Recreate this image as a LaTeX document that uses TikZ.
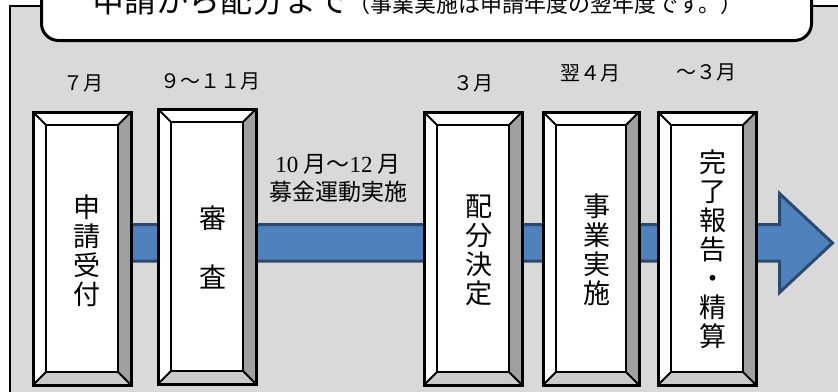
\documentclass[tikz,border=0pt]{standalone}
\usepackage{fontspec}
\newfontfamily\jp{Noto Sans CJK JP}
\newfontfamily\lserif{Liberation Serif}
\usetikzlibrary{calc}
\definecolor{bggray}{HTML}{D9D9D9}
\definecolor{bandblue}{HTML}{4F81BD}
\definecolor{banddark}{HTML}{2B4A6F}
\definecolor{bevdark}{HTML}{A0A0A0}
\definecolor{bevlight}{HTML}{CBCBCB}
\tikzset{
  stepbox/.style={draw=black, line width=3pt, inner sep=0pt, fill=white},
  vtext/.style={font=\jp\fontsize{27}{29}\selectfont, align=center, inner sep=0pt},
  month/.style={font=\jp\fontsize{20}{20}\selectfont, inner sep=0pt},
  midlabel/.style={font=\jp\fontsize{23}{28}\selectfont, align=center, inner sep=0pt},
}
\newcommand\bevelize[1]{%
  \fill[white] (#1.north west) -- (#1.north east) -- ($(#1.north east)+(-13,13)$) -- ($(#1.north west)+(13,13)$) -- cycle;
  \fill[white] (#1.north west) -- (#1.south west) -- ($(#1.south west)+(13,-13)$) -- ($(#1.north west)+(13,13)$) -- cycle;
  \fill[bevdark] (#1.north east) -- (#1.south east) -- ($(#1.south east)+(-13,-13)$) -- ($(#1.north east)+(-13,13)$) -- cycle;
  \fill[bevlight] (#1.south west) -- (#1.south east) -- ($(#1.south east)+(-13,-13)$) -- ($(#1.south west)+(13,-13)$) -- cycle;
  \draw[line width=2pt] (#1.north west) -- ($(#1.north west)+(13,13)$)
    (#1.north east) -- ($(#1.north east)+(-13,13)$)
    (#1.south west) -- ($(#1.south west)+(13,-13)$)
    (#1.south east) -- ($(#1.south east)+(-13,-13)$);
  \draw[line width=2pt, fill=white] ($(#1.north west)+(13,13)$) rectangle ($(#1.south east)+(-13,-13)$);
  \draw[line width=3pt] (#1.north west) rectangle (#1.south east);
}
\begin{document}
\begin{tikzpicture}[x=1pt,y=-1pt]
\useasboundingbox (0,0) rectangle (838,391);
% background frame
\draw[fill=bggray, line width=2pt] (10,6) rectangle (860,420);
% title box
\draw[fill=white, line width=3pt, rounded corners=17pt] (41.5,-60) rectangle (811.5,40.5);
\node[anchor=base west, inner sep=0pt] (title) at (92,12)
  {\jp\fontsize{32}{32}\selectfont 申請から配分まで\fontsize{22}{22}\selectfont （事業実施は申請年度の翌年度です。）};
% big arrow
\draw[fill=bandblue, draw=banddark, line width=3pt, line join=miter]
  (60,224.5) -- (779.5,224.5) -- (779.5,193.5) -- (832.5,243) -- (779.5,292.5) -- (779.5,261) -- (60,261) -- cycle;
% boxes
\node[stepbox, minimum width=95pt, minimum height=270pt] (b1) at (82,248.5) {};
\node[stepbox, minimum width=95pt, minimum height=272pt] (b2) at (207,246.5) {};
\node[stepbox, minimum width=95pt, minimum height=270pt] (b3) at (473,248.5) {};
\node[stepbox, minimum width=93pt, minimum height=270pt] (b4) at (591,248.5) {};
\node[stepbox, minimum width=95pt, minimum height=270pt] (b5) at (707,248.5) {};
\bevelize{b1}\bevelize{b2}\bevelize{b3}\bevelize{b4}\bevelize{b5}
% vertical texts
\node[vtext] (t1) at ($(b1.center)+(5,2.5)$) {申\\請\\受\\付};
\node[vtext] (t2) at ($(b2.center)+(6,1)$) {審\\[30pt]査};
\node[vtext] (t3) at ($(b3.center)+(6,1.5)$) {配\\分\\決\\定};
\node[vtext] (t4) at ($(b4.center)+(6,1.5)$) {事\\業\\実\\施};
\node[vtext] (t5) at ($(b5.center)+(6,0.5)$) {完\\了\\報\\告\\・\\精\\算};
% month labels
\node[month] (m1) at (83,83) {７月};
\node[month] (m2) at (210,81) {９～１１月};
\node[month] (m3) at (473,83) {３月};
\node[month] (m4) at (590,73) {翌４月};
\node[month] (m5) at (706,72) {～３月};
% middle label
\node[midlabel] (mid) at (338,178) {{\lserif 10} 月～{\lserif 12} 月\\募金運動実施};
\end{tikzpicture}
\end{document}
